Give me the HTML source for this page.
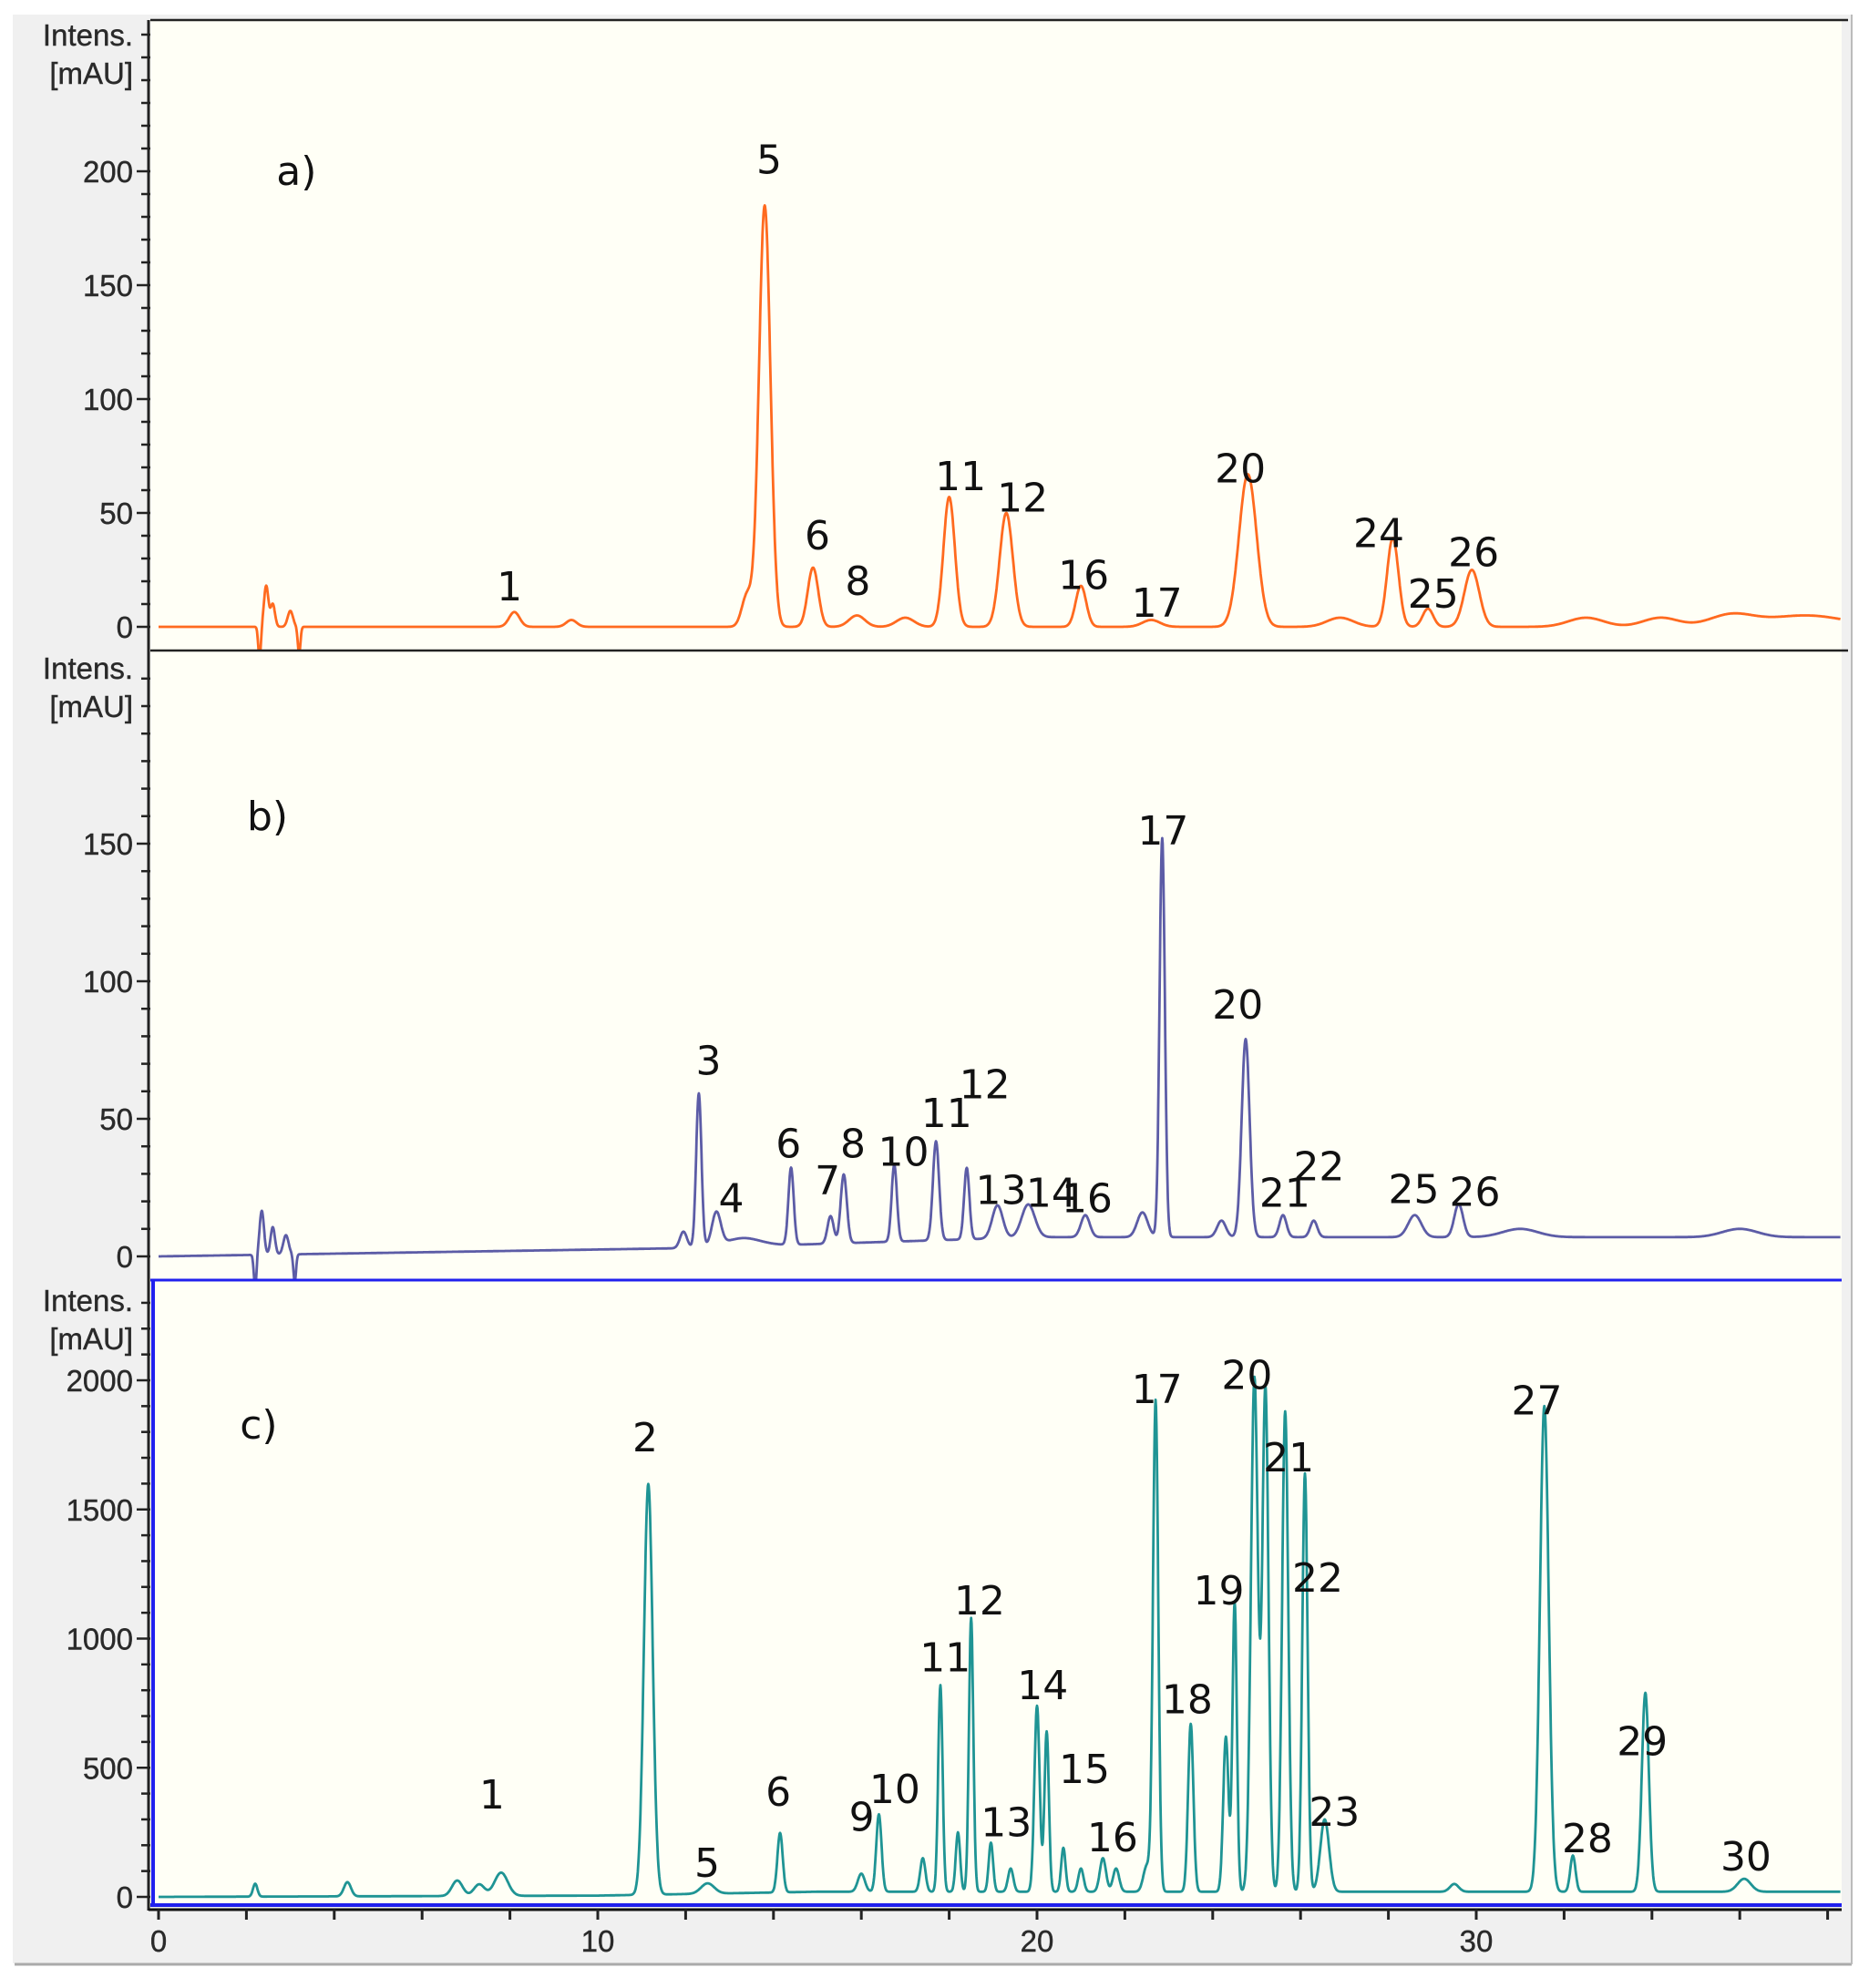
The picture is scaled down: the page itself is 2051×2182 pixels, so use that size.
<!DOCTYPE html>
<html><head><meta charset="utf-8"><style>
html,body{margin:0;padding:0;background:#fff;}
svg{display:block;}
.tk{font-family:"Liberation Sans",sans-serif;font-size:33px;fill:#2a2a2a;stroke:#2a2a2a;stroke-width:0.4;}
.pl{font-family:"DejaVu Sans","Liberation Sans",sans-serif;font-size:44px;fill:#111;}
</style></head><body>
<svg id="chart" width="2051" height="2182" viewBox="0 0 2051 2182">
<rect x="14" y="16" width="2018" height="2139" fill="#f0f0f0"/>
<line x1="16" y1="2156" x2="2032" y2="2156" stroke="#aaa" stroke-width="3"/>
<line x1="2032" y1="16" x2="2032" y2="2156" stroke="#bbb" stroke-width="2"/>
<rect x="165" y="22" width="1856" height="2071" fill="#fffff6"/>
<g id="layer"></g>
</svg>
<script>
// ---- data (retention time min, height, sigma) ----
const peaksA_t = [2.3, 2.45, 2.6, 3.0, 3.2, 8.1, 9.4, 13.4, 13.8, 14.9, 15.9, 17.0, 18.0, 19.3, 21.0, 22.6, 24.8, 26.9, 28.1, 28.9, 29.9, 32.5, 34.2, 35.8, 37.5];
const peaksA_h = [-14, 18, 10, 7, -12, 6.5, 3, 14, 185, 26, 5, 4, 57, 50, 18, 3, 67, 4, 39, 8, 25, 4, 4, 5, 5];
const peaksA_s = [0.03, 0.05, 0.05, 0.06, 0.03, 0.12, 0.12, 0.12, 0.13, 0.12, 0.18, 0.2, 0.13, 0.15, 0.12, 0.2, 0.2, 0.3, 0.13, 0.12, 0.17, 0.4, 0.4, 0.5, 0.9];

const peaksB_t = [2.2, 2.35, 2.6, 2.9, 3.1, 11.95, 12.3, 12.7, 13.3, 14.4, 15.3, 15.6, 16.75, 17.7, 18.4, 19.1, 19.8, 21.1, 22.4, 22.85, 24.2, 24.75, 25.6, 26.3, 28.6, 29.6, 31, 36];
const peaksB_h = [-12, 16, 10, 7, -10, 6, 56, 12, 3, 28, 10, 25, 28, 36, 26, 12, 12, 8, 9, 145, 6, 72, 8, 6, 8, 12, 3, 3];
const peaksB_s = [0.03, 0.05, 0.05, 0.06, 0.03, 0.08, 0.06, 0.1, 0.4, 0.06, 0.07, 0.07, 0.06, 0.07, 0.06, 0.12, 0.15, 0.1, 0.12, 0.06, 0.1, 0.09, 0.08, 0.08, 0.15, 0.1, 0.4, 0.4];
const baseB_t = [0, 12, 20, 38.3];
const baseB_v = [0, 3, 7, 7];

const peaksC_t = [2.2, 4.3, 6.8, 7.3, 7.8, 11.15, 12.5, 14.15, 16.0, 16.4, 17.4, 17.8, 18.2, 18.5, 18.95, 19.4, 20.0, 20.22, 20.6, 21.0, 21.5, 21.8, 22.5, 22.7, 23.5, 24.3, 24.5, 24.95, 25.2, 25.65, 26.1, 26.55, 29.5, 31.55, 32.2, 33.85, 36.1];
const peaksC_h = [50, 55, 60, 45, 90, 1590, 40, 230, 70, 300, 130, 800, 230, 1060, 190, 90, 720, 620, 170, 90, 130, 90, 100, 1900, 650, 600, 1120, 1990, 1950, 1860, 1620, 280, 30, 1880, 140, 770, 50];
const peaksC_s = [0.05, 0.08, 0.12, 0.12, 0.15, 0.1, 0.15, 0.06, 0.08, 0.06, 0.06, 0.05, 0.05, 0.05, 0.05, 0.06, 0.06, 0.05, 0.05, 0.06, 0.07, 0.07, 0.08, 0.06, 0.06, 0.06, 0.05, 0.08, 0.07, 0.07, 0.06, 0.1, 0.1, 0.1, 0.06, 0.08, 0.15];
const baseC_t = [0, 10, 15, 38.3];
const baseC_v = [0, 5, 20, 20];

const xTickLabels = ["0", "10", "20", "30"];
const yTicksA = [0, 50, 100, 150, 200];
const yTicksB = [0, 50, 100, 150];
const yTicksC = [0, 500, 1000, 1500, 2000];

// peak labels: [text, time, value at text baseline]
const labelsA = [["1",7.99,11.7],["5",13.9,199],["6",15.0,34],["8",15.92,14],["11",18.26,60],["12",19.67,50.7],["16",21.06,16.7],["17",22.73,4.5],["20",24.63,63.5],["24",27.78,35],["25",29.02,8.4],["26",29.94,26.7]];
const labelsB = [["3",12.52,66],["4",13.04,16],["6",14.34,36],["7",15.23,22.5],["8",15.81,36],["10",16.96,33],["11",17.94,47],["12",18.81,57.5],["13",19.18,19],["14",20.33,18],["16",21.14,16],["17",22.87,149.6],["20",24.57,86.5],["21",25.64,18],["22",26.42,27.6],["25",28.58,19.3],["26",29.97,18.4]];
const labelsC = [["1",7.59,343],["2",11.08,1725],["5",12.49,78],["6",14.11,353],["9",16.01,255],["10",16.76,363],["11",17.91,873],["12",18.69,1093],["13",19.3,235],["14",20.13,765],["15",21.08,441],["16",21.72,176],["17",22.73,1912],["18",23.42,711],["19",24.14,1132],["20",24.78,1966],["21",25.73,1647],["22",26.39,1181],["23",26.77,275],["27",31.38,1868],["28",32.53,172],["29",33.78,549],["30",36.14,103]];

// ---- axes ----
const X0 = 174, PXMIN = 48.2, XEND = 2021;
function xs(t){ return X0 + PXMIN * t; }
const panels = [
  {name:"a", y0:688, k:2.5, top:22, bot:714, color:"#ff6a1f", pt:peaksA_t, ph:peaksA_h, ps:peaksA_s, bt:[0,38.3], bv:[0,0], ticks:yTicksA, minor:10, maxv:265, labels:labelsA, tag:"a)", tagT:3.14, tagV:194, intY:[39,81]},
  {name:"b", y0:1379, k:3.02, top:714, bot:1405, color:"#5c5ca6", pt:peaksB_t, ph:peaksB_h, ps:peaksB_s, bt:baseB_t, bv:baseB_v, ticks:yTicksB, minor:10, maxv:215, labels:labelsB, tag:"b)", tagT:2.48, tagV:155, intY:[734,776]},
  {name:"c", y0:2082, k:0.2835, top:1405, bot:2093, color:"#1f9494", pt:peaksC_t, ph:peaksC_h, ps:peaksC_s, bt:baseC_t, bv:baseC_v, ticks:yTicksC, minor:100, maxv:2360, labels:labelsC, tag:"c)", tagT:2.28, tagV:1775, intY:[1428,1470]}
];
const NS = "http://www.w3.org/2000/svg";
const layer = document.getElementById("layer");
function mk(tag, attrs, parent){ const e=document.createElementNS(NS,tag); for(const k in attrs) e.setAttribute(k,attrs[k]); (parent||layer).appendChild(e); return e; }
function interp(tArr, vArr, t){ for(let i=1;i<tArr.length;i++){ if(t<=tArr[i]){ const f=(t-tArr[i-1])/(tArr[i]-tArr[i-1]); return vArr[i-1]+f*(vArr[i]-vArr[i-1]); } } return vArr[vArr.length-1]; }

panels.forEach(p=>{
  const ys = v => p.y0 - p.k * v;
  const g = mk("g", {});
  
  
  const cp = mk("clipPath", {id:"clip-"+p.name}, g);
  mk("rect", {x:166, y:p.top+1, width:XEND-166, height:p.bot-p.top-2}, cp);
  let d = "";
  for(let t=0; t<=38.3; t+=0.01){
    let v = interp(p.bt, p.bv, t);
    for(let i=0;i<p.pt.length;i++){ const z=(t-p.pt[i])/p.ps[i]; v += p.ph[i]*Math.exp(-0.5*z*z); }
    d += (d?"L":"M") + xs(t).toFixed(1) + "," + ys(v).toFixed(1);
  }
  const path = mk("path", {d:d, fill:"none", stroke:p.color, "stroke-width":2.8, "stroke-linejoin":"round", "clip-path":"url(#clip-"+p.name+")"}, g);
  
  
  for(let v=0; v<=p.maxv; v+=p.minor){
    const y = ys(v);
    if(y < p.top+2) break;
    const major = p.ticks.indexOf(v) >= 0;
    mk("line", {x1: major?150:155, y1:y, x2:165, y2:y, stroke:"#222", "stroke-width":2.5}, g);
  }
  p.ticks.forEach(v=>{
    const t = mk("text", {x:146, y:ys(v)+12, "text-anchor":"end", class:"tk"}, g);
    t.textContent = String(v);
    
    
  });
  const i1 = mk("text", {x:146, y:p.intY[0]+11, "text-anchor":"end", class:"tk"}, g);
  i1.textContent = "Intens.";
  
  
  const i2 = mk("text", {x:146, y:p.intY[1]+11, "text-anchor":"end", class:"tk"}, g);
  i2.textContent = "[mAU]";
  
  
  p.labels.forEach(l=>{
    const t = mk("text", {x:xs(l[1]), y:ys(l[2]), "text-anchor":"middle", class:"pl"}, g);
    t.textContent = l[0];
    
    
  });
  const tg = mk("text", {x:xs(p.tagT), y:ys(p.tagV), "text-anchor":"middle", class:"pl"}, g);
  tg.textContent = p.tag;
  
  
});

const fr = mk("g", {});


mk("line", {x1:165, y1:22, x2:2028, y2:22, stroke:"#222", "stroke-width":2.5}, fr);
mk("line", {x1:165, y1:714, x2:2028, y2:714, stroke:"#222", "stroke-width":2.5}, fr);
mk("line", {x1:165, y1:1405, x2:2021, y2:1405, stroke:"#2020ee", "stroke-width":3}, fr);
mk("line", {x1:163, y1:22, x2:163, y2:2097, stroke:"#222", "stroke-width":3}, fr);
mk("line", {x1:168, y1:1405, x2:168, y2:2093, stroke:"#2020ee", "stroke-width":4}, fr);
mk("line", {x1:165, y1:2091, x2:XEND, y2:2091, stroke:"#2020ee", "stroke-width":4}, fr);
mk("line", {x1:163, y1:2096, x2:XEND, y2:2096, stroke:"#111", "stroke-width":3}, fr);
for(let t=0; t<=38.3; t+=2){
  mk("line", {x1:xs(t), y1:2096, x2:xs(t), y2:2107, stroke:"#222", "stroke-width":3}, fr);
}
xTickLabels.forEach(s=>{
  const t = mk("text", {x:xs(parseFloat(s)), y:2142, "text-anchor":"middle", class:"tk"}, fr);
  t.textContent = s;
  
  
});
</script>
</body></html>
